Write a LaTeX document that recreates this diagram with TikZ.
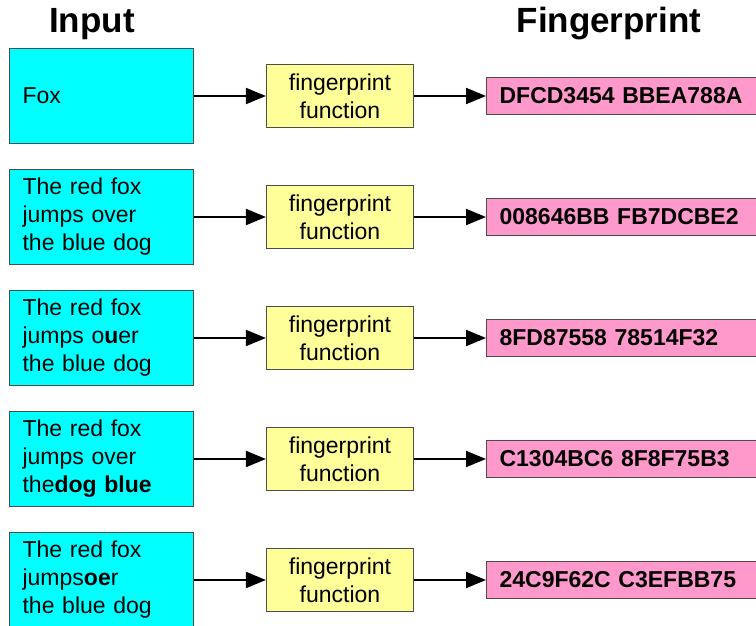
\documentclass[tikz,border=0pt]{standalone}
\usepackage{fontspec}
\setmainfont{Liberation Sans}
\usepackage{xcolor}
\usepackage{tikz}
\usetikzlibrary{arrows.meta}

\definecolor{incyan}{HTML}{00FFFF}
\definecolor{fnyellow}{HTML}{FFFF99}
\definecolor{fppink}{HTML}{FF99CC}

\begin{document}
\begin{tikzpicture}[x=1pt,y=-1pt,
  boxtext/.style={font=\fontsize{23}{28}\selectfont},
  inbox/.style={boxtext,draw=black!70,line width=1.2pt,fill=incyan,anchor=west,
    minimum width=184pt,minimum height=95pt,inner xsep=13pt,text width=158pt,align=left},
  fnbox/.style={boxtext,draw=black!70,line width=1.2pt,fill=fnyellow,
    minimum width=147pt,minimum height=63pt,align=center,inner sep=0pt},
  fpbox/.style={boxtext,draw=black!70,line width=1.2pt,fill=fppink,anchor=west,
    minimum width=280pt,minimum height=37pt,inner xsep=13pt,text width=254pt,align=left,
    font=\fontsize{23}{28}\selectfont\bfseries},
  heading/.style={font=\fontsize{35}{40}\selectfont\bfseries,anchor=base},
  arr/.style={line width=2pt,-{Triangle[length=20pt,width=16pt]}}]
\useasboundingbox (0,0) rectangle (756,626);

% Headings
\node[heading] (inputhead) at (92,33) {Input};
\node[heading] (fphead) at (609,33) {Fingerprint};

% Row 1
\node[inbox] (in1) at (9,96) {Fox};
\node[fnbox] (fn1) at (340,96) {fingerprint\\function};
\node[fpbox] (fp1) at (486,96) {DFCD3454 BBEA788A};
\draw[arr] (in1) -- (fn1);
\draw[arr] (fn1) -- (fp1);

% Row 2
\node[inbox] (in2) at (9,217) {The red fox\\jumps over\\the blue dog};
\node[fnbox] (fn2) at (340,217) {fingerprint\\function};
\node[fpbox] (fp2) at (486,217) {008646BB FB7DCBE2};
\draw[arr] (in2) -- (fn2);
\draw[arr] (fn2) -- (fp2);

% Row 3
\node[inbox] (in3) at (9,338) {The red fox\\jumps o\textbf{u}er\\the blue dog};
\node[fnbox] (fn3) at (340,338) {fingerprint\\function};
\node[fpbox] (fp3) at (486,338) {8FD87558 78514F32};
\draw[arr] (in3) -- (fn3);
\draw[arr] (fn3) -- (fp3);

% Row 4
\node[inbox] (in4) at (9,459) {The red fox\\jumps over\\the\textbf{dog blue}};
\node[fnbox] (fn4) at (340,459) {fingerprint\\function};
\node[fpbox] (fp4) at (486,459) {C1304BC6 8F8F75B3};
\draw[arr] (in4) -- (fn4);
\draw[arr] (fn4) -- (fp4);

% Row 5
\node[inbox] (in5) at (9,580) {The red fox\\jumps\textbf{oe}r\\the blue dog};
\node[fnbox] (fn5) at (340,580) {fingerprint\\function};
\node[fpbox] (fp5) at (486,580) {24C9F62C C3EFBB75};
\draw[arr] (in5) -- (fn5);
\draw[arr] (fn5) -- (fp5);
\end{tikzpicture}
\end{document}
